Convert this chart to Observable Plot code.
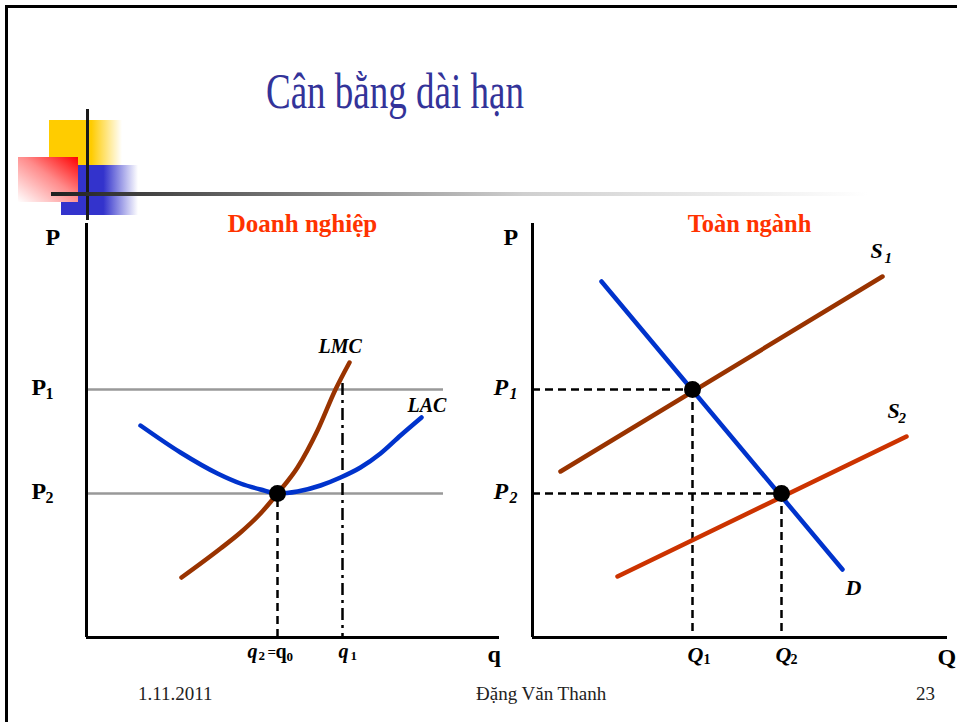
<!DOCTYPE html>
<html>
<head>
<meta charset="utf-8">
<script src="https://cdn.jsdelivr.net/npm/d3@7"></script>
<script src="https://cdn.jsdelivr.net/npm/@observablehq/plot@0.6"></script>
<style>
  html, body { margin: 0; padding: 0; background: #fff; }
  #slide { position: relative; width: 957px; height: 722px; overflow: hidden; background: #fff;
           font-family: "Times New Roman", "Liberation Serif", serif; }
  .abs { position: absolute; }
  #frame { left: 5px; top: 5px; width: 1200px; height: 1200px; border-top: 3px solid #000; border-left: 3px solid #000; }
  #yellow { left: 49px; top: 120px; width: 73px; height: 45px;
            background: linear-gradient(to right, #ffcc00 0%, #ffcc00 58%, rgba(255,204,0,0) 100%); }
  #blue { left: 61px; top: 165px; width: 77px; height: 50px;
          background: linear-gradient(to right, #3333cc 0%, #3333cc 55%, rgba(51,51,204,0) 100%); }
  #red { left: 18px; top: 157px; width: 60px; height: 45px;
         background: linear-gradient(to bottom left, #ff0000 0%, #ff8a8a 45%, #ffffff 100%); }
  #vline { left: 86px; top: 109px; width: 3px; height: 111px; background: #1a1a1a; }
  #hline { left: 51px; top: 192px; width: 860px; height: 4px;
           background: linear-gradient(to right, #1f1f1f 0%, #cfcfcf 55%, #ffffff 95%); }
  #title { left: 266px; top: 66px; font-size: 50px; line-height: 50px; color: #333399; white-space: nowrap;
           transform: scaleX(0.74); transform-origin: 0 0; }
  .foot { top: 684px; font-size: 19px; line-height: 19px; color: #222; white-space: nowrap; }
  #left { left: 0px; top: 200px; }
  #right { left: 470px; top: 200px; }
</style>
</head>
<body>
<div id="slide">
  <div class="abs" id="frame"></div>
  <div class="abs" id="yellow"></div>
  <div class="abs" id="blue"></div>
  <div class="abs" id="red"></div>
  <div class="abs" id="vline"></div>
  <div class="abs" id="hline"></div>
  <div class="abs" id="title">Cân bằng dài hạn</div>
  <div class="abs" id="left"></div>
  <div class="abs" id="right"></div>
  <div class="abs foot" style="left:138px">1.11.2011</div>
  <div class="abs foot" style="left:476px">Đặng Văn Thanh</div>
  <div class="abs foot" style="left:916px">23</div>
</div>
<script>
// ---------- Data ----------
// Firm panel (q, P units)
const lacQ = [54, 94, 131, 154, 174, 191, 211, 234, 254, 274, 294, 314, 335];
const lacP = [212, 185, 164, 154, 148, 144, 146, 152, 160, 170, 184, 202, 220];
const lmcQ = [95, 134, 154, 174, 191, 211, 231, 249, 263];
const lmcP = [60, 89, 105, 124, 144, 170, 207, 248, 275];
const priceLevels = [248, 144];        // P1, P2
const priceLineEnd = 357;
const qEquilibrium = 191;              // q2 = q0
const qShortRun = 256;                 // q1
const qShortRunTop = 254;
const firmAxisMax = {q: 413, p: 414};

// Industry panel (Q, P units)
const s1Q = [28, 350], s1P = [166, 361];
const dQ = [69, 310], dP = [356, 68];
const s2Q = [85, 374], s2P = [61, 201];
const eqQ = [160, 249];                // Q1, Q2
const eqP = [248, 144];                // P1, P2
const indAxisMax = {q: 415, p: 414};

// ---------- helpers ----------
const FONT = '"Times New Roman","Liberation Serif",serif';
const pts = (xs, ys) => xs.map((x, i) => ({x, y: ys[i]}));
function label(x, y, text, dx, dy, size, weight = "bold", style = "normal", fill = "#000") {
  return Plot.text([{x, y, text}], {
    x: "x", y: "y", text: "text", dx, dy, fontSize: size, fontWeight: weight, fontStyle: style,
    fill, textAnchor: "start", lineAnchor: "bottom", fontFamily: FONT
  });
}
const yScale = {domain: [0, 414], range: [437, 23], axis: null};

// ---------- Firm panel ----------
const [P1, P2] = priceLevels;
const left = Plot.plot({
  width: 500, height: 480, margin: 0,
  x: {domain: [0, 411], range: [86, 497], axis: null},
  y: yScale,
  style: {background: "transparent", fontFamily: FONT, overflow: "visible"},
  marks: [
    Plot.ruleY(priceLevels, {x1: 0, x2: priceLineEnd, stroke: "#999", strokeWidth: 2.5}),
    Plot.ruleX([qEquilibrium], {y1: 0, y2: P2, stroke: "#000", strokeWidth: 2.5, strokeDasharray: "8,5"}),
    Plot.ruleX([qShortRun], {y1: qShortRunTop, y2: 0, stroke: "#000", strokeWidth: 2.5, strokeDasharray: "12,5,3,5"}),
    Plot.line(pts(lacQ, lacP), {x: "x", y: "y", curve: "monotone-x", stroke: "#0033cc", strokeWidth: 4.5, strokeLinecap: "round", strokeLinejoin: "round"}),
    Plot.line(pts(lmcQ, lmcP), {x: "x", y: "y", curve: "monotone-x", stroke: "#993300", strokeWidth: 4.5, strokeLinecap: "round", strokeLinejoin: "round"}),
    Plot.dot([{x: qEquilibrium, y: P2}], {x: "x", y: "y", r: 8.5, fill: "#000"}),
    Plot.ruleX([0], {y1: 0, y2: firmAxisMax.p, stroke: "#000", strokeWidth: 3}),
    Plot.ruleY([0], {x1: 0, x2: firmAxisMax.q, stroke: "#000", strokeWidth: 3}),
    Plot.text(["Doanh nghiệp"], {frameAnchor: "top-left", dx: 302, dy: 31, text: d => d, textAnchor: "middle", lineAnchor: "bottom",
      fontSize: 25, fontWeight: "bold", fill: "#ff3300", fontFamily: FONT}),
    label(0, firmAxisMax.p, "P", -41, 21, 24),
    label(0, P1, "P", -55, 5, 24), label(0, P1, "1", -41, 9, 16),
    label(0, P2, "P", -55, 5, 24), label(0, P2, "2", -41, 9, 16),
    label(411, 0, "q", -10, 24, 24),
    label(qEquilibrium, 0, "q", -30, 20, 20, "bold", "italic"),
    label(qEquilibrium, 0, "2", -19, 22, 13),
    label(qEquilibrium, 0, "=", -10, 19, 15),
    label(qEquilibrium, 0, "q", -2, 20, 20),
    label(qEquilibrium, 0, "0", 9, 23, 13),
    label(qShortRun, 0, "q", -4, 20, 20, "bold", "italic"),
    label(qShortRun, 0, "1", 8, 22, 13),
    label(lmcQ[lmcQ.length - 1], lmcP[lmcP.length - 1], "LMC", -31, -10, 20, "bold", "italic"),
    label(lacQ[lacQ.length - 1], lacP[lacP.length - 1], "LAC", -14, -6, 20, "bold", "italic")
  ]
});
document.getElementById("left").appendChild(left);

// ---------- Industry panel ----------
const right = Plot.plot({
  width: 487, height: 480, margin: 0,
  x: {domain: [0, 415], range: [62, 477], axis: null},
  y: yScale,
  style: {background: "transparent", fontFamily: FONT, overflow: "visible"},
  marks: [
    Plot.ruleY(eqP, {x1: 0, x2: eqQ, stroke: "#000", strokeWidth: 2.5, strokeDasharray: "8,5"}),
    Plot.ruleX(eqQ, {y1: eqP, y2: 0, stroke: "#000", strokeWidth: 2.5, strokeDasharray: "8,5"}),
    Plot.line(pts(s1Q, s1P), {x: "x", y: "y", stroke: "#993300", strokeWidth: 4.5}),
    Plot.line(pts(dQ, dP), {x: "x", y: "y", stroke: "#0033cc", strokeWidth: 4.5}),
    Plot.line(pts(s2Q, s2P), {x: "x", y: "y", stroke: "#cc3300", strokeWidth: 4.5}),
    Plot.dot(pts(eqQ, eqP), {x: "x", y: "y", r: 8.5, fill: "#000"}),
    Plot.ruleX([0], {y1: 0, y2: indAxisMax.p, stroke: "#000", strokeWidth: 3}),
    Plot.ruleY([0], {x1: 0, x2: indAxisMax.q, stroke: "#000", strokeWidth: 3}),
    Plot.text(["Toàn ngành"], {frameAnchor: "top-left", dx: 279, dy: 31, text: d => d, textAnchor: "middle", lineAnchor: "bottom",
      fontSize: 24.5, fontWeight: "bold", fill: "#ff3300", fontFamily: FONT}),
    label(0, indAxisMax.p, "P", -29, 21, 24),
    label(0, eqP[0], "P", -39, 5, 24, "bold", "italic"), label(0, eqP[0], "1", -23, 9, 16, "bold", "italic"),
    label(0, eqP[1], "P", -39, 5, 24, "bold", "italic"), label(0, eqP[1], "2", -23, 9, 16, "bold", "italic"),
    label(indAxisMax.q, 0, "Q", -10, 27, 24),
    label(eqQ[0], 0, "Q", -5, 24, 22, "bold", "italic"), label(eqQ[0], 0, "1", 11, 26, 14),
    label(eqQ[1], 0, "Q", -6, 24, 22, "bold", "italic"), label(eqQ[1], 0, "2", 9, 26, 14),
    label(s1Q[1], s1P[1], "S", -12, -19, 22, "bold", "italic"), label(s1Q[1], s1P[1], "1", 2, -14, 15, "bold", "italic"),
    label(s2Q[1], s2P[1], "S", -19, -19, 22, "bold", "italic"), label(s2Q[1], s2P[1], "2", -8, -14, 15, "bold", "italic"),
    label(dQ[1], dP[1], "D", 3, 25, 22, "bold", "italic")
  ]
});
document.getElementById("right").appendChild(right);
</script>
</body>
</html>
